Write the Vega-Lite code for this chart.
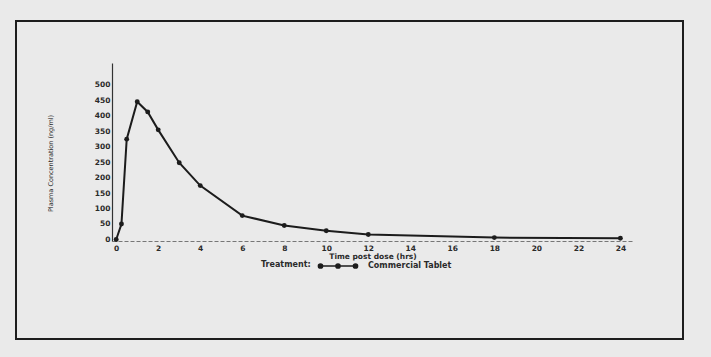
{
  "$schema": "https://vega.github.io/schema/vega-lite/v6.json",
  "autosize": {"type": "none"},
  "width": 521,
  "height": 178,
  "padding": {"left": 112, "top": 63, "right": 78, "bottom": 116},
  "background": "#eaeaea",
  "config": {
    "view": {"stroke": null},
    "font": "DejaVu Sans",
    "axis": {"labelFont": "DejaVu Sans", "labelFontWeight": "bold", "labelFontSize": 7.5, "labelColor": "#2a2a2a", "titleColor": "#2a2a2a", "grid": false, "ticks": false, "labelOverlap": false, "labelFlush": false}
  },
  "data": {"values": [
    {"time": 0, "conc": 0, "Treatment": "Commercial Tablet"},
    {"time": 0.25, "conc": 50, "Treatment": "Commercial Tablet"},
    {"time": 0.5, "conc": 324, "Treatment": "Commercial Tablet"},
    {"time": 1, "conc": 445, "Treatment": "Commercial Tablet"},
    {"time": 1.5, "conc": 412, "Treatment": "Commercial Tablet"},
    {"time": 2, "conc": 354, "Treatment": "Commercial Tablet"},
    {"time": 3, "conc": 248, "Treatment": "Commercial Tablet"},
    {"time": 4, "conc": 174, "Treatment": "Commercial Tablet"},
    {"time": 6, "conc": 77, "Treatment": "Commercial Tablet"},
    {"time": 8, "conc": 45, "Treatment": "Commercial Tablet"},
    {"time": 10, "conc": 28, "Treatment": "Commercial Tablet"},
    {"time": 12, "conc": 16, "Treatment": "Commercial Tablet"},
    {"time": 18, "conc": 6, "Treatment": "Commercial Tablet"},
    {"time": 24, "conc": 4, "Treatment": "Commercial Tablet"}
  ]},
  "layer": [
    {
      "mark": {"type": "rect", "filled": false, "stroke": "#1e1e1e", "strokeWidth": 1.6},
      "encoding": {
        "x": {"datum": -4.77, "type": "quantitative",
          "scale": {"domain": [-0.2, 24.6], "nice": false, "zero": false},
          "axis": {
            "values": [0, 2, 4, 6, 8, 10, 12, 14, 16, 18, 20, 22, 24],
            "title": "Time post dose (hrs)",
            "titleFont": "DejaVu Sans", "titleFontWeight": "bold", "titleFontSize": 7.5,
            "titlePadding": 1, "labelPadding": 3,
            "domainColor": "#777777", "domainDash": [4, 2], "domainWidth": 1.2
          }
        },
        "x2": {"datum": 26.98},
        "y": {"datum": 705.7, "type": "quantitative",
          "scale": {"domain": [-5, 570], "nice": false, "zero": false},
          "axis": {
            "values": [0, 50, 100, 150, 200, 250, 300, 350, 400, 450, 500],
            "title": "Plasma Concentration (ng/ml)",
            "titleFont": "DejaVu Sans", "titleFontWeight": "normal", "titleFontSize": 6.5,
            "titleX": -62, "titleY": 100, "titleAlign": "center", "titleBaseline": "middle",
            "labelPadding": 2,
            "domainColor": "#333333", "domainWidth": 1.2
          }
        },
        "y2": {"datum": -321.6}
      }
    },
    {
      "mark": {"type": "line", "strokeWidth": 2, "point": {"filled": true, "size": 24}},
      "encoding": {
        "x": {
          "field": "time", "type": "quantitative",
          "scale": {"domain": [-0.2, 24.6], "nice": false, "zero": false},
          "axis": {
            "values": [0, 2, 4, 6, 8, 10, 12, 14, 16, 18, 20, 22, 24],
            "title": "Time post dose (hrs)",
            "titleFont": "DejaVu Sans", "titleFontWeight": "bold", "titleFontSize": 7.5,
            "titlePadding": 1, "labelPadding": 3,
            "domainColor": "#777777", "domainDash": [4, 2], "domainWidth": 1.2
          }
        },
        "y": {
          "field": "conc", "type": "quantitative",
          "scale": {"domain": [-5, 570], "nice": false, "zero": false},
          "axis": {
            "values": [0, 50, 100, 150, 200, 250, 300, 350, 400, 450, 500],
            "title": "Plasma Concentration (ng/ml)",
            "titleFont": "DejaVu Sans", "titleFontWeight": "normal", "titleFontSize": 6.5,
            "titleX": -62, "titleY": 100, "titleAlign": "center", "titleBaseline": "middle",
            "labelPadding": 2,
            "domainColor": "#333333", "domainWidth": 1.2
          }
        },
        "color": {
          "field": "Treatment", "type": "nominal",
          "scale": {"range": ["#1c1c1c"]},
          "legend": {
            "orient": "none", "legendX": 149, "legendY": 195,
            "title": "Treatment:", "titleOrient": "left", "titleBaseline": "middle", "titleFont": "DejaVu Sans",
            "titleFontWeight": "bold", "titleFontSize": 8, "titleColor": "#2a2a2a", "titlePadding": 19,
            "labelFont": "DejaVu Sans", "labelFontWeight": "bold", "labelFontSize": 8, "labelColor": "#2a2a2a",
            "symbolType": "M-2.5,0L2.5,0M-2.2,0A0.3,0.3,0,1,1,-2.8,0A0.3,0.3,0,1,1,-2.2,0M0.3,0A0.3,0.3,0,1,1,-0.3,0A0.3,0.3,0,1,1,0.3,0M2.8,0A0.3,0.3,0,1,1,2.2,0A0.3,0.3,0,1,1,2.8,0",
            "symbolSize": 196, "symbolStrokeWidth": 1.5, "symbolFillColor": "#1c1c1c", "symbolStrokeColor": "#1c1c1c",
            "labelOffset": 22
          }
        }
      }
    }
  ]
}
